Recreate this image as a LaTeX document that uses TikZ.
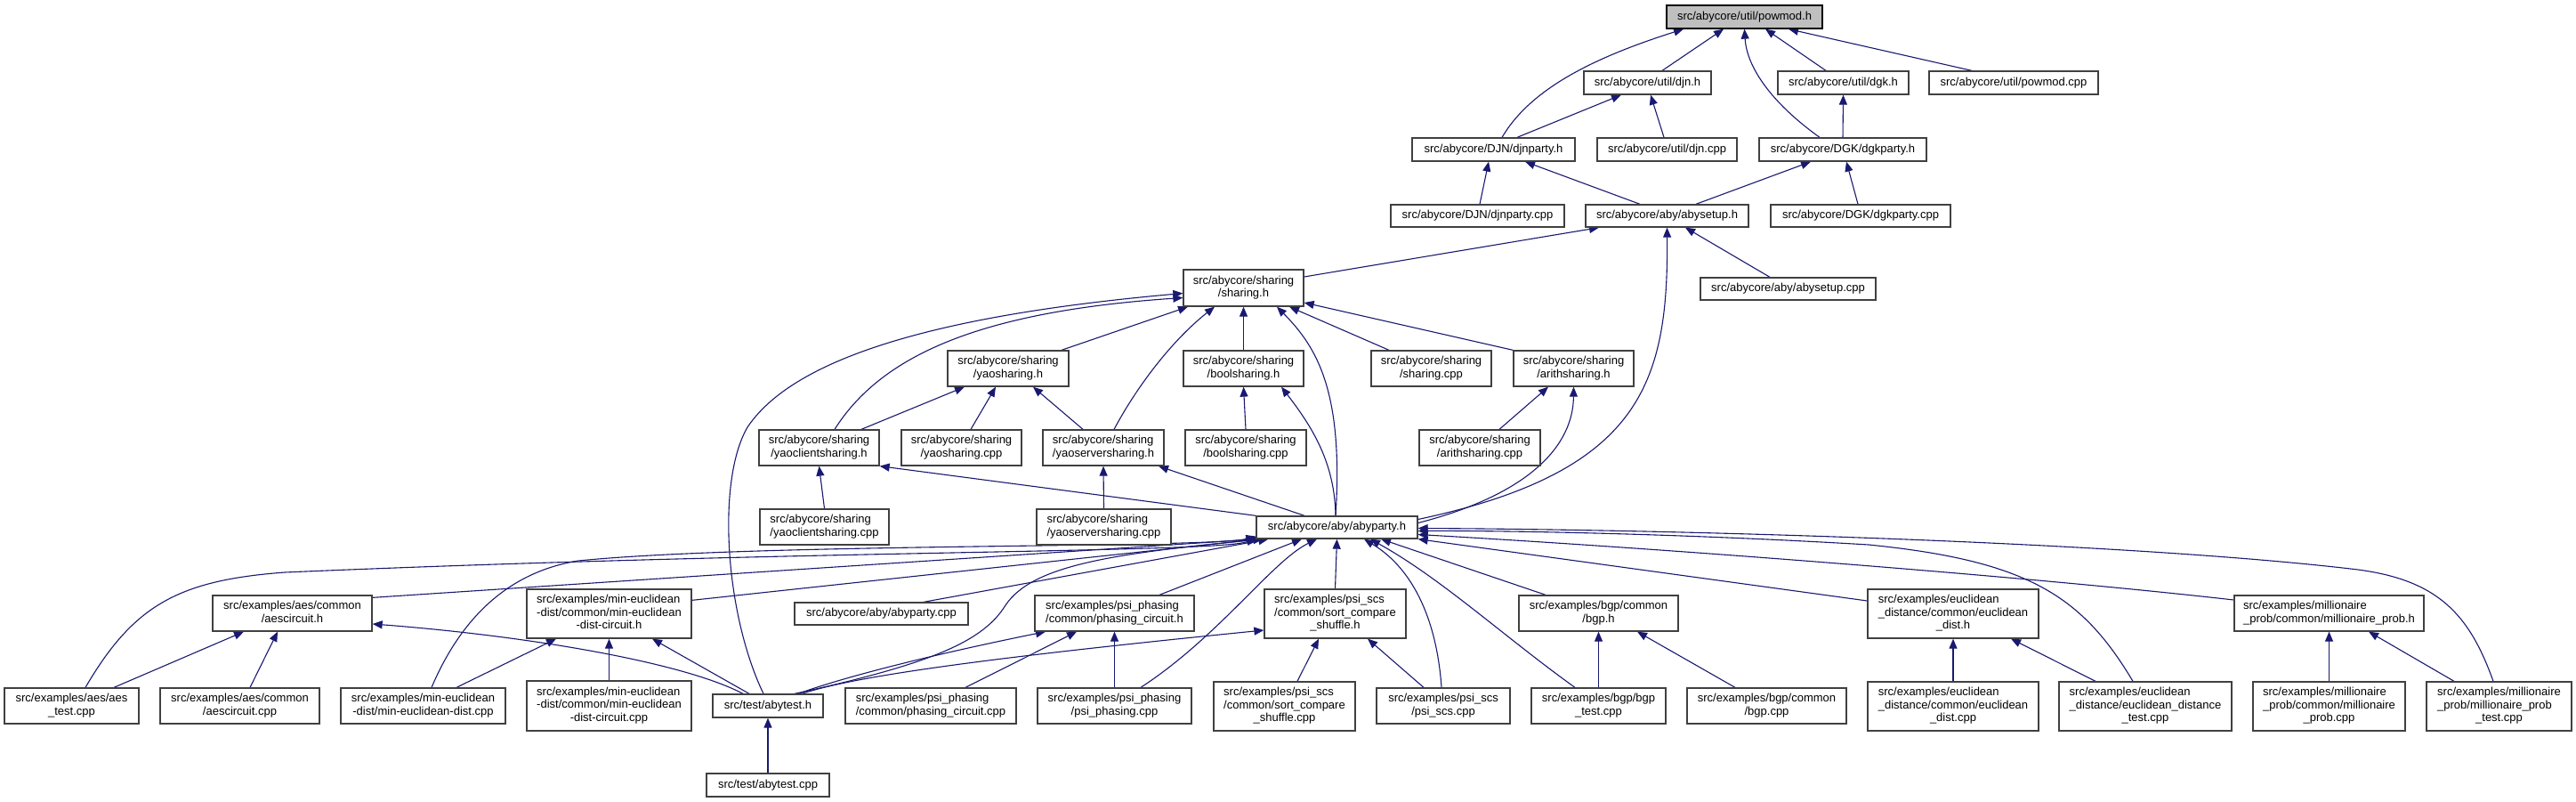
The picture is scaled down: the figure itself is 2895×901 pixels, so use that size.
\documentclass[tikz,border=0pt]{standalone}
\usepackage{fontspec}
\setmainfont{Liberation Sans}
\usetikzlibrary{arrows.meta,calc}
\definecolor{edgec}{HTML}{191970}
\definecolor{boxc}{HTML}{404040}
\definecolor{rootfill}{HTML}{BFBFBF}
\pgfdeclarelayer{back}
\pgfdeclarelayer{edges}
\pgfsetlayers{back,edges,main}
\newcommand\TL[2]{\begin{tabular}{@{}l@{}}#1\\\multicolumn{1}{@{}c@{}}{#2}\end{tabular}}
\newcommand\mynode[6]{\node[box,minimum width=#4pt,minimum height=#5pt] (#1) at (#2,#3) {#6};}
\begin{document}
\begin{tikzpicture}[x=1pt,y=-1pt,
  box/.style={draw=boxc,line width=1.3pt,fill=white,inner sep=0pt,
    font=\fontsize{13}{14.5}\selectfont},
  root/.style={fill=rootfill,draw=black},
  e/.style={draw=edgec,line width=1.1pt,>={Triangle[length=11pt,width=9pt]},<-}]
\begin{pgfonlayer}{back}
\fill[white] (0,0) rectangle (2895,901);
\end{pgfonlayer}
\useasboundingbox (0,0) rectangle (2895,901);
% nodes
\node[box,root,minimum width=175pt,minimum height=26pt] (powmod) at (1960.5,19) {src/abycore/util/powmod.h};
\mynode{djnh}{1851.5}{93}{143}{26}{src/abycore/util/djn.h}
\mynode{dgkh}{2071.5}{93}{147}{26}{src/abycore/util/dgk.h}
\mynode{powmodcpp}{2263}{93}{190}{26}{src/abycore/util/powmod.cpp}
\mynode{djnparty}{1678.5}{168}{183}{26}{src/abycore/DJN/djnparty.h}
\mynode{djncpp}{1873.5}{168}{157}{26}{src/abycore/util/djn.cpp}
\mynode{dgkparty}{2071}{168}{188}{26}{src/abycore/DGK/dgkparty.h}
\mynode{djnpartycpp}{1660.5}{242.5}{195}{25}{src/abycore/DJN/djnparty.cpp}
\mynode{abysetup}{1873.5}{242.5}{183}{25}{src/abycore/aby/abysetup.h}
\mynode{dgkpartycpp}{2091}{242.5}{202}{25}{src/abycore/DGK/dgkparty.cpp}
\mynode{sharingh}{1397.5}{323.5}{135}{41}{\TL{src/abycore/sharing}{/sharing.h}}
\mynode{abysetupcpp}{2009.5}{324.5}{197}{25}{src/abycore/aby/abysetup.cpp}
\mynode{yaosharingh}{1133}{414}{136}{40}{\TL{src/abycore/sharing}{/yaosharing.h}}
\mynode{boolsharingh}{1397.5}{414}{135}{40}{\TL{src/abycore/sharing}{/boolsharing.h}}
\mynode{sharingcpp}{1608.5}{414}{135}{40}{\TL{src/abycore/sharing}{/sharing.cpp}}
\mynode{arithsharingh}{1768.5}{414}{135}{40}{\TL{src/abycore/sharing}{/arithsharing.h}}
\mynode{yaoclienth}{920.5}{503}{135}{40}{\TL{src/abycore/sharing}{/yaoclientsharing.h}}
\mynode{yaosharingcpp}{1080.5}{503}{135}{40}{\TL{src/abycore/sharing}{/yaosharing.cpp}}
\mynode{yaoserverh}{1240}{503}{136}{40}{\TL{src/abycore/sharing}{/yaoserversharing.h}}
\mynode{boolsharingcpp}{1400}{503}{136}{40}{\TL{src/abycore/sharing}{/boolsharing.cpp}}
\mynode{arithsharingcpp}{1663}{503}{136}{40}{\TL{src/abycore/sharing}{/arithsharing.cpp}}
\mynode{yaoclientcpp}{926.5}{592}{145}{40}{\TL{src/abycore/sharing}{/yaoclientsharing.cpp}}
\mynode{yaoservercpp}{1240.5}{592}{151}{40}{\TL{src/abycore/sharing}{/yaoserversharing.cpp}}
\mynode{abyparty}{1502.5}{592.5}{181}{25}{src/abycore/aby/abyparty.h}
\mynode{aescircuith}{328.5}{689}{179}{40}{\TL{src/examples/aes/common}{/aescircuit.h}}
\mynode{mineuch}{684.5}{689.5}{185}{55}{\TL{src/examples/min-euclidean\\-dist/common/min-euclidean}{-dist-circuit.h}}
\mynode{abypartycpp}{990.5}{689.5}{195}{25}{src/abycore/aby/abyparty.cpp}
\mynode{phasingh}{1252.5}{689}{179}{40}{\TL{src/examples/psi\_phasing}{/common/phasing\_circuit.h}}
\mynode{scsh}{1500.5}{689.5}{159}{55}{\TL{src/examples/psi\_scs\\/common/sort\_compare}{\_shuffle.h}}
\mynode{bgph}{1796.5}{689}{179}{40}{\TL{src/examples/bgp/common}{/bgp.h}}
\mynode{euch}{2195}{689.5}{192}{55}{\TL{src/examples/euclidean\\\_distance/common/euclidean}{\_dist.h}}
\mynode{millh}{2617.5}{689}{213}{40}{\TL{src/examples/millionaire}{\_prob/common/millionaire\_prob.h}}
\mynode{aestest}{80.5}{793}{151}{40}{\TL{src/examples/aes/aes}{\_test.cpp}}
\mynode{aescircuitcpp}{269.5}{793}{179}{40}{\TL{src/examples/aes/common}{/aescircuit.cpp}}
\mynode{mineuccpp}{475.5}{793}{185}{40}{\TL{src/examples/min-euclidean}{-dist/min-euclidean-dist.cpp}}
\mynode{mineuccircuitcpp}{684.5}{793}{185}{56}{\TL{src/examples/min-euclidean\\-dist/common/min-euclidean}{-dist-circuit.cpp}}
\mynode{abytesth}{863}{793}{124}{26}{src/test/abytest.h}
\mynode{phasingcpp}{1046}{793}{192}{40}{\TL{src/examples/psi\_phasing}{/common/phasing\_circuit.cpp}}
\mynode{psiphasingcpp}{1252.5}{793}{173}{40}{\TL{src/examples/psi\_phasing}{/psi\_phasing.cpp}}
\mynode{scscpp}{1443.5}{793.5}{159}{55}{\TL{src/examples/psi\_scs\\/common/sort\_compare}{\_shuffle.cpp}}
\mynode{psiscscpp}{1622}{793}{150}{40}{\TL{src/examples/psi\_scs}{/psi\_scs.cpp}}
\mynode{bgptest}{1796.5}{793}{151}{40}{\TL{src/examples/bgp/bgp}{\_test.cpp}}
\mynode{bgpcpp}{1985.5}{793}{179}{40}{\TL{src/examples/bgp/common}{/bgp.cpp}}
\mynode{euccpp}{2195}{793.5}{192}{55}{\TL{src/examples/euclidean\\\_distance/common/euclidean}{\_dist.cpp}}
\mynode{euctest}{2411}{793.5}{194}{55}{\TL{src/examples/euclidean\\\_distance/euclidean\_distance}{\_test.cpp}}
\mynode{millcpp}{2617.5}{793.5}{171}{55}{\TL{src/examples/millionaire\\\_prob/common/millionaire}{\_prob.cpp}}
\mynode{milltest}{2808.5}{793.5}{163}{55}{\TL{src/examples/millionaire\\\_prob/millionaire\_prob}{\_test.cpp}}
\mynode{abytestcpp}{863}{882}{138}{26}{src/test/abytest.cpp}
\begin{pgfonlayer}{edges}
% edges (parent first, arrow at parent)
\draw[e] ($(powmod.south)+(-23.5,0)$) -- ($(djnh.north)+(16.5,0)$);
\draw[e] ($(powmod.south)+(23.5,0)$) -- ($(dgkh.north)+(-19.5,0)$);
\draw[e] ($(powmod.south)+(49.5,0)$) -- ($(powmodcpp.north)+(-47,0)$);
\draw[e] ($(powmod.south)+(-68.5,0)$) .. controls (1790,65) and (1720,100) .. ($(djnparty.north)+(9.5,0)$);
\draw[e] (powmod.south) .. controls (1963,75) and (1990,115) .. ($(dgkparty.north)+(-26,0)$);
\draw[e] ($(djnh.south)+(-29.5,0)$) -- ($(djnparty.north)+(26.5,0)$);
\draw[e] ($(djnh.south)+(3.5,0)$) -- ($(djncpp.north)+(-3.5,0)$);
\draw[e] (dgkh.south) -- (dgkparty.north);
\draw[e] ($(djnparty.south)+(-5.5,0)$) -- ($(djnpartycpp.north)+(2.5,0)$);
\draw[e] ($(djnparty.south)+(35.5,0)$) -- ($(abysetup.north)+(-30.5,0)$);
\draw[e] ($(dgkparty.south)+(-36,0)$) -- ($(abysetup.north)+(32.5,0)$);
\draw[e] ($(dgkparty.south)+(4,0)$) -- ($(dgkpartycpp.north)+(-3,0)$);
\draw[e] ($(abysetup.south)+(20.5,0)$) -- ($(abysetupcpp.north)+(-20.5,0)$);
\draw[e] ($(abysetup.south)+(-76.5,0)$) -- ($(sharingh.east)+(0,-12.5)$);
\draw[e] (abysetup.south) .. controls (1875,430) and (1845,530) .. ($(abyparty.east)+(0,-9)$);
% sharing level
\draw[e] ($(sharingh.south)+(-62.5,0)$) -- ($(yaosharingh.north)+(60,0)$);
\draw[e] (sharingh.south) -- (boolsharingh.north);
\draw[e] ($(sharingh.south)+(51.5,0)$) -- ($(sharingcpp.north)+(-47.5,0)$);
\draw[e] ($(sharingh.east)+(0,16.5)$) -- (arithsharingh.north west);
\draw[e] ($(sharingh.west)+(0,11)$) .. controls (1100,350) and (990,400) .. ($(yaoclienth.north)+(17.5,0)$);
\draw[e] ($(sharingh.west)+(0,6)$) .. controls (1100,350) and (900,390) .. (840,480) .. controls (805,540) and (815,690) .. ($(abytesth.north)+(-5,0)$);
\draw[e] ($(sharingh.south)+(-32.5,0)$) .. controls (1320,380) and (1280,430) .. ($(yaoserverh.north)+(12,0)$);
\draw[e] ($(sharingh.south)+(37.5,0)$) .. controls (1480,390) and (1510,440) .. ($(abyparty.north)+(-1.5,0)$);
\draw[e] ($(boolsharingh.south)+(42.5,0)$) .. controls (1475,480) and (1500,520) .. ($(abyparty.north)+(-1.5,0)$);
\draw[e] ($(yaosharingh.south)+(-49,0)$) -- ($(yaoclienth.north)+(47.5,0)$);
\draw[e] ($(yaosharingh.south)+(-14,0)$) -- ($(yaosharingcpp.north)+(10.5,0)$);
\draw[e] ($(yaosharingh.south)+(28,0)$) -- ($(yaoserverh.north)+(-23,0)$);
\draw[e] (boolsharingh.south) -- (boolsharingcpp.north);
\draw[e] ($(arithsharingh.south)+(-28.5,0)$) -- ($(arithsharingcpp.north)+(22,0)$);
\draw[e] (arithsharingh.south) .. controls (1768,500) and (1720,555) .. ($(abyparty.east)+(0,-5)$);
\draw[e] (yaoclienth.south) -- (yaoclientcpp.north);
\draw[e] (yaoclienth.south east) -- (abyparty.north west);
\draw[e] (yaoserverh.south) -- (yaoservercpp.north);
\draw[e] ($(yaoserverh.south)+(62,0)$) -- ($(abyparty.north)+(-36.5,0)$);
% into abyparty from left
\draw[e] ($(abyparty.south west)+(14,0)$) -- ($(abypartycpp.north)+(47.5,0)$);
\draw[e] ($(abyparty.south west)+(2,0)$) -- ($(aescircuith.north east)+(0,3)$);
\draw[e] ($(abyparty.south west)+(4,0)$) -- ($(mineuch.north east)+(0,13)$);
\draw[e] ($(abyparty.south west)+(0,-1)$) .. controls (1370,621) and (900,618) .. (320,643) .. controls (200,652) and (150,680) .. ($(aestest.north)+(15.5,0)$);
\draw[e] ($(abyparty.south west)+(0,-3)$) .. controls (1360,616) and (850,610) .. (650,630) .. controls (575,642) and (520,690) .. ($(mineuccpp.north)+(9.5,0)$);
\draw[e] ($(abyparty.south west)+(8,0)$) .. controls (1250,622) and (1160,635) .. (1130,680) .. controls (1105,720) and (1050,745) .. ($(abytesth.north)+(30,0)$);
\draw[e] ($(phasingh.south)+(-77.5,0)$) .. controls (1050,735) and (950,760) .. ($(abytesth.north)+(34,0)$);
\draw[e] ($(scsh.west)+(0,18.5)$) .. controls (1100,740) and (960,760) .. ($(abytesth.north)+(38,0)$);
\draw[e] ($(aescircuith.east)+(0,12)$) .. controls (600,715) and (770,745) .. ($(abytesth.north)+(-28,0)$);
\draw[e] ($(mineuch.south)+(48.5,0)$) -- ($(abytesth.north)+(-21,0)$);
\draw[e] (abytesth.south) -- (abytestcpp.north);
% lower groups
\draw[e] ($(aescircuith.south)+(-54.5,0)$) -- ($(aestest.north)+(47.5,0)$);
\draw[e] ($(aescircuith.south)+(-16.5,0)$) -- ($(aescircuitcpp.north)+(11.5,0)$);
\draw[e] ($(mineuch.south)+(-59.5,0)$) -- ($(mineuccpp.north)+(37.5,0)$);
\draw[e] (mineuch.south) -- (mineuccircuitcpp.north);
\draw[e] ($(phasingh.south)+(-42.5,0)$) -- ($(phasingcpp.north)+(39,0)$);
\draw[e] (phasingh.south) -- (psiphasingcpp.north);
\draw[e] ($(abyparty.south)+(-22.5,0)$) .. controls (1430,630) and (1370,715) .. ($(psiphasingcpp.north)+(29.5,0)$);
\draw[e] ($(abyparty.south)+(-39.5,0)$) -- ($(phasingh.north)+(50.5,0)$);
\draw[e] (abyparty.south) -- (scsh.north);
\draw[e] ($(scsh.south)+(-18.5,0)$) -- ($(scscpp.north)+(14.5,0)$);
\draw[e] ($(scsh.south)+(36.5,0)$) -- ($(psiscscpp.north)+(-22,0)$);
\draw[e] ($(abyparty.south)+(30.5,0)$) .. controls (1590,640) and (1615,700) .. ($(psiscscpp.north)+(-2,0)$);
\draw[e] ($(abyparty.south)+(49.5,0)$) -- ($(bgph.north)+(-59.5,0)$);
\draw[e] ($(abyparty.south)+(37.5,0)$) .. controls (1620,650) and (1690,715) .. ($(bgptest.north)+(-26.5,0)$);
\draw[e] (bgph.south) -- (bgptest.north);
\draw[e] ($(bgph.south)+(43.5,0)$) -- ($(bgpcpp.north)+(-35.5,0)$);
\draw[e] (abyparty.south east) -- ($(euch.west)+(0,-14.5)$);
\draw[e] ($(abyparty.east)+(0,8)$) .. controls (1900,618) and (2300,650) .. ($(millh.west)+(0,-15)$);
\draw[e] ($(abyparty.east)+(0,4)$) .. controls (1700,596) and (1900,600) .. (2100,612) .. controls (2280,630) and (2340,670) .. ($(euctest.north)+(-14,0)$);
\draw[e] ($(abyparty.east)+(0,1)$) .. controls (1900,595) and (2400,610) .. (2650,640) .. controls (2740,652) and (2775,690) .. ($(milltest.north)+(-6.5,0)$);
\draw[e] (euch.south) -- (euccpp.north);
\draw[e] ($(euch.south)+(65,0)$) -- ($(euctest.north)+(-56,0)$);
\draw[e] (millh.south) -- (millcpp.north);
\draw[e] ($(millh.south)+(44.5,0)$) -- ($(milltest.north)+(-50.5,0)$);
\end{pgfonlayer}
\end{tikzpicture}
\end{document}
